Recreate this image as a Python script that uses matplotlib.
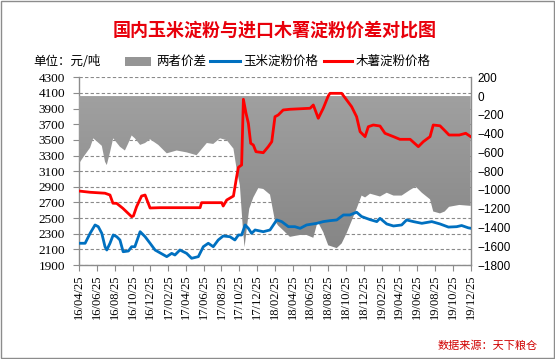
import numpy as np
import pandas as pd
import matplotlib
matplotlib.use("Agg")
import matplotlib.pyplot as plt
import matplotlib.dates as mdates
from matplotlib.lines import Line2D
from matplotlib.patches import Rectangle
from matplotlib.colors import LinearSegmentedColormap

plt.rcParams['font.family'] = ['Liberation Serif', 'Noto Sans CJK SC', 'DejaVu Sans']
CJK = ['Noto Sans CJK SC', 'DejaVu Sans']

# ---------------- data ----------------
title = "国内玉米淀粉与进口木薯淀粉价差对比图"
unit_label = "单位：元/吨"
series_names = ["两者价差", "玉米淀粉价格", "木薯淀粉价格"]
source_label = "数据来源：天下粮仓"

cassava_dates = ["2016-04-25", "2016-06-02", "2016-07-23", "2016-08-09", "2016-08-19",
                 "2016-09-01", "2016-09-22", "2016-10-22", "2016-10-28", "2016-11-08",
                 "2016-11-25", "2016-12-07", "2016-12-24", "2017-01-27", "2017-06-13",
                 "2017-06-18", "2017-08-26", "2017-08-31", "2017-09-12", "2017-10-05",
                 "2017-10-16", "2017-10-22", "2017-11-02", "2017-11-08", "2017-11-17",
                 "2017-11-25", "2017-12-03", "2017-12-12", "2017-12-21", "2018-01-15",
                 "2018-02-01", "2018-02-13", "2018-02-24", "2018-03-07", "2018-03-24",
                 "2018-04-16", "2018-06-24", "2018-07-05", "2018-07-22", "2018-08-08",
                 "2018-08-25", "2018-08-31", "2018-10-10", "2018-10-27", "2018-11-13",
                 "2018-11-30", "2018-12-12", "2018-12-29", "2019-01-09", "2019-01-26",
                 "2019-02-18", "2019-03-07", "2019-04-05", "2019-04-27", "2019-06-01",
                 "2019-06-29", "2019-07-16", "2019-08-08", "2019-08-19", "2019-09-11",
                 "2019-09-27", "2019-10-12", "2019-11-16", "2019-12-08", "2019-12-25"]
cassava_values = [2846, 2830, 2818, 2795, 2690,
                  2688, 2625, 2518, 2527, 2646,
                  2782, 2795, 2629, 2633, 2633,
                  2697, 2697, 2654, 2731, 2782,
                  3029, 3149, 3179, 4019, 3840,
                  3712, 3456, 3434, 3349, 3336,
                  3413, 3477, 3796, 3818, 3882,
                  3891, 3904, 3946, 3776, 3904,
                  4061, 4095, 4095, 4010, 3924,
                  3796, 3604, 3541, 3668, 3690,
                  3677, 3584, 3541, 3507, 3507,
                  3413, 3477, 3541, 3690, 3680,
                  3620, 3562, 3562, 3584, 3541]

corn_dates = ["2016-04-25", "2016-05-16", "2016-06-02", "2016-06-19", "2016-06-30",
              "2016-07-12", "2016-07-23", "2016-07-29", "2016-08-09", "2016-08-20",
              "2016-09-01", "2016-09-12", "2016-09-23", "2016-10-11", "2016-10-22",
              "2016-11-02", "2016-11-20", "2016-12-07", "2016-12-24", "2017-01-10",
              "2017-02-19", "2017-03-08", "2017-03-19", "2017-04-05", "2017-04-28",
              "2017-05-15", "2017-06-07", "2017-06-24", "2017-07-11", "2017-07-28",
              "2017-08-14", "2017-08-31", "2017-09-23", "2017-10-10", "2017-10-22",
              "2017-11-02", "2017-11-14", "2017-11-25", "2017-12-06", "2017-12-18",
              "2018-01-15", "2018-02-07", "2018-03-02", "2018-03-19", "2018-04-11",
              "2018-05-03", "2018-05-21", "2018-06-12", "2018-07-17", "2018-08-08",
              "2018-08-31", "2018-09-23", "2018-10-16", "2018-11-07", "2018-11-30",
              "2018-12-17", "2019-01-15", "2019-02-07", "2019-02-18", "2019-03-13",
              "2019-04-05", "2019-05-03", "2019-05-20", "2019-06-12", "2019-07-11",
              "2019-08-14", "2019-09-11", "2019-10-10", "2019-11-07", "2019-11-24",
              "2019-12-17", "2019-12-25"]
corn_values = [2178, 2178, 2305, 2412, 2390,
               2305, 2134, 2092, 2178, 2284,
               2262, 2220, 2070, 2079, 2134,
               2134, 2326, 2262, 2178, 2092,
               2007, 2049, 2028, 2092, 2049,
               1986, 2007, 2134, 2178, 2134,
               2220, 2271, 2262, 2220, 2284,
               2284, 2412, 2369, 2305, 2348,
               2326, 2348, 2476, 2455, 2390,
               2390, 2369, 2412, 2433, 2455,
               2467, 2476, 2540, 2540, 2575,
               2520, 2480, 2455, 2497, 2425,
               2399, 2412, 2476, 2455, 2433,
               2455, 2425, 2385, 2390, 2405,
               2375, 2370]

spread_dates = ["2016-04-25", "2016-05-10", "2016-06-02", "2016-06-13", "2016-06-24",
                "2016-07-12", "2016-07-23", "2016-07-29", "2016-08-09", "2016-08-20",
                "2016-09-12", "2016-09-29", "2016-10-11", "2016-10-22", "2016-11-02",
                "2016-11-20", "2016-12-07", "2016-12-24", "2017-01-21", "2017-02-19",
                "2017-03-25", "2017-04-28", "2017-06-01", "2017-07-06", "2017-07-28",
                "2017-08-20", "2017-09-12", "2017-10-05", "2017-10-16", "2017-10-27",
                "2017-11-06", "2017-11-12", "2017-11-20", "2017-11-28", "2017-12-12",
                "2017-12-29", "2018-01-15", "2018-02-07", "2018-02-24", "2018-03-07",
                "2018-03-24", "2018-04-16", "2018-05-20", "2018-06-12", "2018-07-05",
                "2018-07-17", "2018-07-22", "2018-08-08", "2018-08-25", "2018-09-23",
                "2018-10-10", "2018-10-27", "2018-11-13", "2018-11-30", "2018-12-17",
                "2018-12-29", "2019-01-15", "2019-02-18", "2019-03-13", "2019-04-05",
                "2019-05-03", "2019-06-01", "2019-06-20", "2019-07-11", "2019-08-08",
                "2019-08-19", "2019-09-11", "2019-09-27", "2019-10-12", "2019-11-16",
                "2019-12-25"]
spread_values = [-720, -650, -550, -450, -480,
                 -530, -700, -735, -600, -450,
                 -540, -580, -500, -420, -450,
                 -520, -500, -460, -520, -610,
                 -580, -600, -630, -500, -510,
                 -450, -470, -560, -780, -950,
                 -1400, -1610, -1400, -1200, -1080,
                 -980, -990, -1050, -1330, -1380,
                 -1430, -1500, -1480, -1480, -1510,
                 -1370, -1350, -1450, -1590, -1620,
                 -1570, -1460, -1330, -1200, -1060,
                 -1080, -1040, -1070, -1030, -1060,
                 -1060, -1000, -965, -1030, -1100,
                 -1230, -1250, -1230, -1180, -1160,
                 -1170]

left_ticks = [1900, 2100, 2300, 2500, 2700, 2900, 3100, 3300, 3500, 3700, 3900, 4100, 4300]
right_ticks = [-1800, -1600, -1400, -1200, -1000, -800, -600, -400, -200, 0, 200]
x_start, x_end = "2016-04-25", "2019-12-25"

# ---------------- figure ----------------
fig = plt.figure(figsize=(5.55, 3.59), dpi=100)
ax = fig.add_axes([0.1423, 0.2618, 0.7058, 0.5229])
ax2 = ax.twinx()
ax3 = ax.twinx()

xs = mdates.date2num(pd.to_datetime([x_start, x_end]))
tick_dates = pd.date_range("2016-04-01", "2019-12-01", freq="2MS") + pd.Timedelta(days=24)

grid_col = "#8a8a8a"
axis_col = "#8c8c8c"

# left axis (grid)
ax.set_xlim(xs[0], xs[1])
ax.set_ylim(left_ticks[0], left_ticks[-1])
ax.set_yticks(left_ticks)
ax.yaxis.grid(True, linestyle=(0, (3, 2)), color=grid_col, linewidth=0.8)
ax.set_axisbelow(True)
ax.set_xticks(mdates.date2num(tick_dates))
ax.xaxis.set_major_formatter(mdates.DateFormatter("%y/%m/%d"))
ax.tick_params(axis="both", direction="out", length=4, color=axis_col, width=0.8)
ax.tick_params(axis="y", pad=6, labelsize=9.5)
ax.tick_params(axis="x", pad=3, labelsize=9, labelrotation=90)
for s in ["top", "right"]:
    ax.spines[s].set_visible(False)
for s in ["left", "bottom"]:
    ax.spines[s].set_color(axis_col)
    ax.spines[s].set_linewidth(1.0)

# right axis: spread area with gradient
ax2.set_ylim(right_ticks[0], right_ticks[-1])
ax2.set_yticks(right_ticks)
ax2.tick_params(axis="y", length=0, pad=5, labelsize=8.5, labelfontfamily="Liberation Sans")
for s in ["top", "left", "bottom"]:
    ax2.spines[s].set_visible(False)
ax2.spines["right"].set_color(axis_col)
ax2.spines["right"].set_linewidth(1.0)
ax2.patch.set_visible(False)

sx = mdates.date2num(pd.to_datetime(spread_dates))
poly = ax2.fill_between(sx, spread_values, 0, facecolor="none", edgecolor="none")
cmap = LinearSegmentedColormap.from_list("g", ["#a0a0a0", "#838383"])
grad = np.linspace(0, 1, 256).reshape(-1, 1)
im = ax2.imshow(grad, extent=[sx[0], sx[-1], right_ticks[0], 0], aspect="auto",
                cmap=cmap, origin="upper", zorder=1, interpolation="bilinear")
im.set_clip_path(poly.get_paths()[0], transform=ax2.transData)
ax2.set_xlim(xs[0], xs[1])
ax2.set_ylim(right_ticks[0], right_ticks[-1])

# price lines on top
ax3.set_ylim(left_ticks[0], left_ticks[-1])
ax3.set_xlim(xs[0], xs[1])
ax3.patch.set_visible(False)
for s in ax3.spines.values():
    s.set_visible(False)
ax3.set_yticks([])
ax3.plot(mdates.date2num(pd.to_datetime(corn_dates)), corn_values, color="#0070c0",
         lw=2.0, solid_joinstyle="round")
ax3.plot(mdates.date2num(pd.to_datetime(cassava_dates)), cassava_values, color="#ff0000",
         lw=2.0, solid_joinstyle="round")

# ---------------- texts & legend ----------------
fig.text(0.494, 0.916, title, ha="center", va="center", fontsize=13,
         fontweight="bold", color="#e8000b", family=CJK)
fig.text(0.0595, 0.830, unit_label, ha="left", va="center", fontsize=9, color="black",
         family=CJK)

fig.patches.append(Rectangle((0.225, 0.815), 0.047, 0.027, transform=fig.transFigure,
                             facecolor="#959595", edgecolor="none"))
fig.text(0.281, 0.830, series_names[0], ha="left", va="center", fontsize=9, family=CJK)
fig.lines.append(Line2D([0.378, 0.432], [0.830, 0.830], transform=fig.transFigure,
                        color="#0070c0", lw=2.2))
fig.text(0.438, 0.830, series_names[1], ha="left", va="center", fontsize=9, family=CJK)
fig.lines.append(Line2D([0.584, 0.634], [0.830, 0.830], transform=fig.transFigure,
                        color="#ff0000", lw=2.2))
fig.text(0.641, 0.830, series_names[2], ha="left", va="center", fontsize=9, family=CJK)

fig.text(0.969, 0.037, source_label, ha="right", va="center", fontsize=8,
         color="#d00000", style="italic", family=CJK)

fig.patches.append(Rectangle((0.0015, 0.0025), 0.997, 0.995, transform=fig.transFigure,
                             fill=False, edgecolor="#8c8c8c", lw=1.0))

fig.savefig("out.png", dpi=100)
